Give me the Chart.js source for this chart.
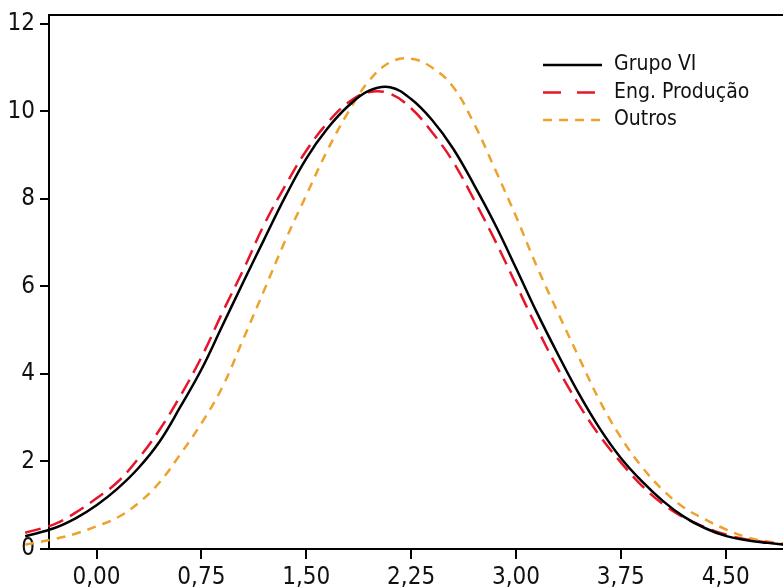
<!DOCTYPE html>
<html lang="pt">
<head>
  <meta charset="UTF-8">
  <title>Grupo VI, Eng. Produção e Outros</title>
  <script src="https://cdn.jsdelivr.net/npm/chart.js"></script>
  <style>
    body { margin: 0; background: #fff; }
    #wrap { width: 783px; height: 588px; position: relative; }
  </style>
</head>
<body>
  <div id="wrap"><canvas id="grafico"></canvas></div>

  <script>
    // valores do eixo x
    const notas = [-0.51, -0.3, -0.15, 0, 0.15, 0.3, 0.45, 0.6, 0.75, 0.9, 1.05, 1.2, 1.35, 1.5, 1.65, 1.8, 1.95,
      2.1, 2.25, 2.4, 2.55, 2.7, 2.85, 3.0, 3.15, 3.3, 3.45, 3.6, 3.75, 3.9, 4.05, 4.2, 4.35, 4.5, 4.65, 4.8, 4.92];

    // curvas
    const grupoVI = [0.29, 0.48, 0.70, 1.0, 1.38, 1.85, 2.45, 3.25, 4.1, 5.1, 6.1, 7.08, 8.05, 8.92, 9.6, 10.12, 10.47,
      10.55, 10.28, 9.8, 9.15, 8.32, 7.42, 6.42, 5.4, 4.45, 3.55, 2.75, 2.08, 1.55, 1.1, 0.74, 0.48, 0.3, 0.2, 0.14, 0.1];
    const engProducao = [0.37, 0.57, 0.83, 1.16, 1.53, 2.07, 2.72, 3.5, 4.38, 5.4, 6.38, 7.42, 8.3, 9.1, 9.73, 10.2, 10.44,
      10.4, 10.07, 9.52, 8.85, 7.98, 7.05, 6.05, 5.05, 4.12, 3.3, 2.58, 1.98, 1.45, 1.03, 0.72, 0.5, 0.33, 0.22, 0.15, 0.1];
    const outros = [0.10, 0.23, 0.35, 0.52, 0.72, 1.05, 1.52, 2.17, 2.87, 3.7, 4.8, 5.92, 7.05, 8.08, 9.1, 9.98, 10.7,
      11.12, 11.2, 11.0, 10.56, 9.72, 8.68, 7.6, 6.45, 5.4, 4.38, 3.38, 2.55, 1.88, 1.35, 0.95, 0.68, 0.45, 0.27, 0.17, 0.12];

    const xTicks = [0, 0.75, 1.5, 2.25, 3.0, 3.75, 4.5];
    const yTicks = [0, 2, 4, 6, 8, 10, 12];

    const fonte = "'DejaVu Sans Condensed', 'Liberation Sans', sans-serif";
    const tracoLegenda = [[], [18, 16], [9, 7]];

    function pontos(valores) {
      return notas.map((x, i) => ({ x: x, y: valores[i] }));
    }

    // legenda desenhada dentro da área do gráfico
    const legenda = {
      id: 'legenda',
      afterDraw(chart) {
        const ctx = chart.ctx;
        chart.data.datasets.forEach((ds, i) => {
          const y = 65 + i * 27.5;
          ctx.save();
          ctx.strokeStyle = ds.borderColor;
          ctx.lineWidth = ds.borderWidth;
          ctx.setLineDash(tracoLegenda[i]);
          ctx.beginPath();
          ctx.moveTo(543, y);
          ctx.lineTo(602, y);
          ctx.stroke();
          ctx.setLineDash([]);
          ctx.fillStyle = '#111';
          ctx.font = '21px ' + fonte;
          ctx.textBaseline = 'middle';
          ctx.fillText(ds.label, 614, y);
          ctx.restore();
        });
      }
    };

    // sem margem extra para os rótulos das pontas
    function semPadding(s) {
      s.paddingTop = 0;
      s.paddingBottom = 0;
      s.paddingLeft = 0;
      s.paddingRight = 0;
    }

    const ctx = document.getElementById('grafico').getContext('2d');
    new Chart(ctx, {
      type: 'line',
      data: {
        datasets: [
          { label: 'Grupo VI', data: pontos(grupoVI), borderColor: '#000000', borderWidth: 2.5, clip: false },
          { label: 'Eng. Produção', data: pontos(engProducao), borderColor: '#e6162a', borderWidth: 2.5, borderDash: [16, 8], clip: false },
          { label: 'Outros', data: pontos(outros), borderColor: '#eea22e', borderWidth: 2.5, borderDash: [9, 7], clip: false }
        ]
      },
      options: {
        animation: false,
        responsive: true,
        maintainAspectRatio: false,
        layout: { padding: 0 },
        elements: {
          point: { radius: 0 },
          line: { tension: 0.4, fill: false }
        },
        plugins: {
          legend: { display: false },
          tooltip: { enabled: false }
        },
        scales: {
          x: {
            type: 'linear',
            position: 'bottom',
            min: -0.34,
            max: 4.91,
            afterBuildTicks: s => { s.ticks = xTicks.map(v => ({ value: v })); },
            afterFit: s => { s.height = 39; semPadding(s); },
            ticks: {
              autoSkip: false,
              maxRotation: 0,
              padding: 4,
              color: '#111',
              font: { family: fonte, size: 24 },
              callback: v => v.toFixed(2).replace('.', ',')
            },
            grid: { drawOnChartArea: false, drawTicks: true, tickLength: 10, color: '#000', lineWidth: 2 },
            border: { display: true, color: '#000', width: 2 }
          },
          xTopo: {
            type: 'linear',
            position: 'top',
            min: -0.34,
            max: 4.91,
            afterFit: s => { s.height = 15; semPadding(s); },
            ticks: { display: false },
            grid: { display: false, drawTicks: false },
            border: { display: true, color: '#000', width: 2 }
          },
          y: {
            type: 'linear',
            min: 0,
            max: 12.2,
            afterBuildTicks: s => { s.ticks = yTicks.map(v => ({ value: v })); },
            afterFit: s => { s.width = 49; semPadding(s); },
            ticks: {
              padding: 5,
              color: '#111',
              font: { family: fonte, size: 24 }
            },
            grid: { drawOnChartArea: false, drawTicks: true, tickLength: 9, color: '#000', lineWidth: 2 },
            border: { display: true, color: '#000', width: 2 }
          }
        }
      },
      plugins: [legenda]
    });
  </script>
</body>
</html>
